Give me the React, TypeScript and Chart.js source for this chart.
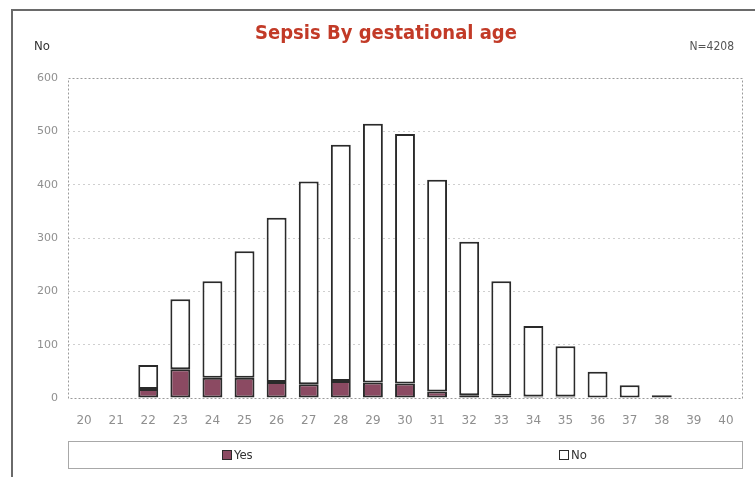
import React, { useEffect, useRef } from "react";
import { Chart, registerables } from "chart.js";

Chart.register(...registerables);

const categories = ["20", "21", "22", "23", "24", "25", "26", "27", "28", "29", "30", "31", "32", "33", "34", "35", "36", "37", "38", "39", "40"];
const yesValues = [0, 0, 17, 54, 38, 38, 30, 26, 32, 29, 27, 12, 5, 4, 3, 3, 1, 0, 0, 0, 0];
const noValues = [0, 0, 45, 131, 181, 237, 308, 380, 443, 485, 468, 397, 288, 215, 132, 94, 48, 24, 5, 0, 1];
const yTicks = [0, 100, 200, 300, 400, 500, 600];
const titleText = "Sepsis By gestational age";
const yAxisLabel = "No";
const totalLabel = "N=4208";
const legendLabels = ["Yes", "No"];

const YES_COLOR = "#8b4a62";
const EDGE = "#2a2a2a";

const decor = {
  id: "decor",
  beforeDatasetsDraw(chart: any) {
    const { ctx, chartArea } = chart;
    ctx.save();
    ctx.setLineDash([2, 2]);
    ctx.strokeStyle = "#9a9a9a";
    ctx.lineWidth = 1;
    ctx.strokeRect(chartArea.left + 0.5, chartArea.top + 0.5, chartArea.right - chartArea.left, chartArea.bottom - chartArea.top);
    ctx.restore();
  },
  afterDraw(chart: any) {
    const { ctx, chartArea } = chart;
    ctx.save();
    // outer frame
    ctx.strokeStyle = "#6a6a6a";
    ctx.lineWidth = 2;
    ctx.beginPath();
    ctx.moveTo(12, 477);
    ctx.lineTo(12, 10);
    ctx.lineTo(755, 10);
    ctx.stroke();
    // title
    ctx.fillStyle = "#c23a27";
    ctx.font = 'bold 20px "DejaVu Sans Condensed", "Liberation Sans Narrow", "Arial Narrow", sans-serif';
    ctx.textAlign = "center";
    ctx.textBaseline = "middle";
    ctx.fillText(titleText, 386, 34);
    // corner labels
    ctx.fillStyle = "#333";
    ctx.font = '13px "DejaVu Sans Condensed", "Liberation Sans Narrow", sans-serif';
    ctx.textAlign = "left";
    ctx.fillText(yAxisLabel, 34, 47);
    ctx.fillStyle = "#555";
    ctx.font = '12px "DejaVu Sans Condensed", "Liberation Sans Narrow", sans-serif';
    ctx.textAlign = "right";
    ctx.fillText(totalLabel, 734, 47);
    // legend box
    const lx = chartArea.left;
    const lw = chartArea.right - chartArea.left;
    ctx.strokeStyle = "#a8a8a8";
    ctx.lineWidth = 1;
    ctx.strokeRect(lx + 0.5, 441.5, lw, 27);
    const ds = chart.data.datasets;
    const centers = [240, 577];
    ctx.font = '13px "DejaVu Sans Condensed", "Liberation Sans Narrow", sans-serif';
    ctx.textAlign = "left";
    ctx.textBaseline = "middle";
    legendLabels.forEach((lab, i) => {
      const cx = centers[i];
      const bx = cx - 18;
      ctx.fillStyle = ds[i].backgroundColor;
      ctx.fillRect(bx, 450, 10, 10);
      ctx.strokeStyle = EDGE;
      ctx.lineWidth = 1;
      ctx.strokeRect(bx + 0.5, 450.5, 9, 9);
      ctx.fillStyle = "#333";
      ctx.fillText(lab, bx + 12, 456);
    });
    ctx.restore();
  },
};

export default function App() {
  const ref = useRef<HTMLCanvasElement>(null);
  useEffect(() => {
    document.body.style.margin = "0";
    const chart = new Chart(ref.current!, {
      type: "bar",
      data: {
        labels: categories,
        datasets: [
          {
            label: legendLabels[0],
            data: yesValues.map((v) => (v > 0 ? v : null)),
            backgroundColor: YES_COLOR,
            borderColor: EDGE,
            borderWidth: 2,
            borderSkipped: false,
            barPercentage: 0.62,
            categoryPercentage: 1,
          },
          {
            label: legendLabels[1],
            data: noValues.map((v) => (v > 0 ? v : null)),
            backgroundColor: "#ffffff",
            borderColor: EDGE,
            borderWidth: 2,
            borderSkipped: false,
            barPercentage: 0.62,
            categoryPercentage: 1,
          },
        ],
      },
      options: {
        responsive: false,
        animation: false,
        layout: { padding: { left: 0, right: 13, top: 78, bottom: 49 } },
        plugins: {
          legend: { display: false },
          title: { display: false },
          tooltip: { enabled: false },
        },
        scales: {
          x: {
            stacked: true,
            grid: { display: false },
            border: { display: false },
            ticks: {
              color: "#8f8f8f",
              font: { family: "DejaVu Sans", size: 12 },
              padding: 8,
              maxRotation: 0,
            },
            afterFit: (s: any) => {
              s.height = 30;
            },
          },
          y: {
            stacked: true,
            min: 0,
            max: 600,
            afterBuildTicks: (s: any) => {
              s.ticks = yTicks.map((v) => ({ value: v }));
            },
            grid: {
              color: (c: any) => (c.tick && (c.tick.value === 0 || c.tick.value === 600) ? "rgba(0,0,0,0)" : "#cfcfcf"),
              drawTicks: false,
            },
            border: { display: false, dash: [2, 3] },
            ticks: {
              color: "#8f8f8f",
              font: { family: "DejaVu Sans", size: 11 },
              padding: 10,
            },
            afterFit: (s: any) => {
              s.width = 68;
            },
          },
        },
      },
      plugins: [decor],
    } as any);
    return () => chart.destroy();
  }, []);
  return <canvas ref={ref} width={755} height={477} style={{ display: "block" }} />;
}
